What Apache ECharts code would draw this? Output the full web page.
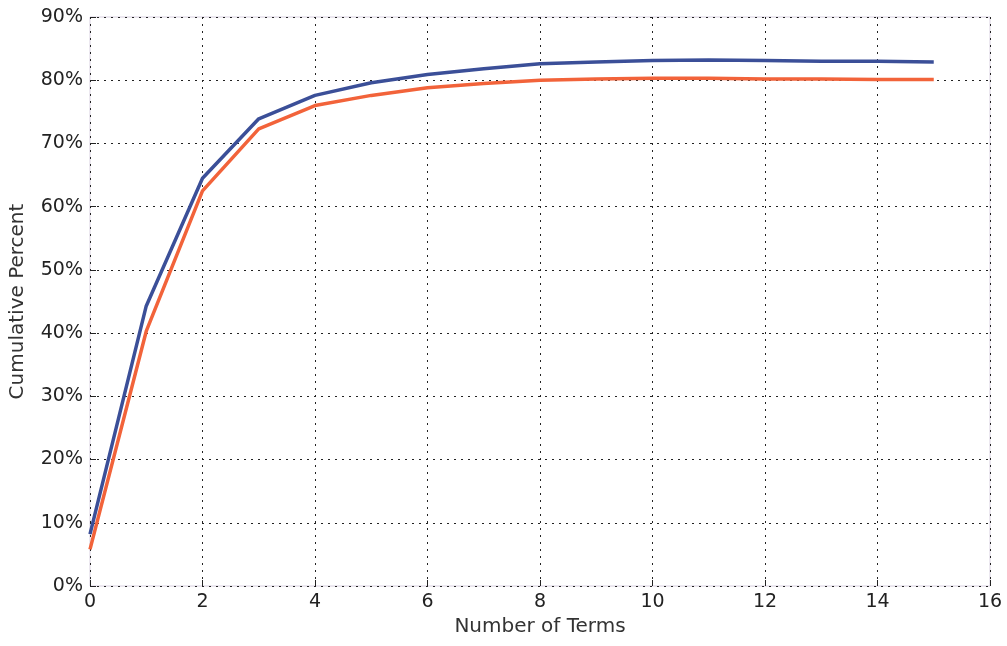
<!DOCTYPE html>
<html><head><meta charset="utf-8">
<script src="https://cdn.jsdelivr.net/npm/echarts@6/dist/echarts.min.js"></script>
<style>html,body{margin:0;padding:0;background:#fff}#c{width:1007px;height:646px}</style>
</head><body><div id="c"></div>
<script>
const terms = [0,1,2,3,4,5,6,7,8,9,10,11,12,13,14,15];
const blueSeries = [8.2,44.3,64.5,73.9,77.6,79.6,80.9,81.8,82.6,82.9,83.1,83.2,83.1,83.0,83.0,82.9];
const orangeSeries = [5.8,40.3,62.5,72.3,76.0,77.6,78.8,79.5,80.0,80.2,80.3,80.3,80.2,80.2,80.1,80.1];
const yTicks = [0,10,20,30,40,50,60,70,80,90];

const chart = echarts.init(document.getElementById('c'));
const font = 'DejaVu Sans';
chart.setOption({
  animation:false,
  grid:{left:88,right:17,top:17,bottom:60,show:true,borderColor:'#d8d0e0',borderWidth:1},
  xAxis:{type:'value',min:0,max:16,interval:2,
    name:'Number of Terms',nameLocation:'middle',nameGap:31,
    nameTextStyle:{fontFamily:font,fontSize:20,color:'#333'},
    axisLine:{show:false},
    axisTick:{show:true,inside:true,length:6,lineStyle:{color:'#222'}},
    axisLabel:{fontFamily:font,fontSize:19,color:'#222',margin:7},
    splitLine:{show:true,lineStyle:{color:'#222',type:[2,5],width:1}}},
  yAxis:{type:'value',min:0,max:90,interval:10,
    name:'Cumulative Percent',nameLocation:'middle',nameGap:62,
    nameTextStyle:{fontFamily:font,fontSize:20,color:'#333'},
    axisLine:{show:false},
    axisTick:{show:true,inside:true,length:6,lineStyle:{color:'#222'}},
    axisLabel:{fontFamily:font,fontSize:19,color:'#222',margin:7,
      formatter:v=>yTicks.includes(v)?v+'%':''},
    splitLine:{show:true,lineStyle:{color:'#222',type:[2,5],width:1}}},
  series:[
    {type:'line',data:terms.map((t,i)=>[t,blueSeries[i]]),showSymbol:false,
     lineStyle:{color:'#3b4f98',width:3.5},z:3},
    {type:'line',data:terms.map((t,i)=>[t,orangeSeries[i]]),showSymbol:false,
     lineStyle:{color:'#f2633a',width:3.5},z:2}
  ]
});
</script></body></html>
